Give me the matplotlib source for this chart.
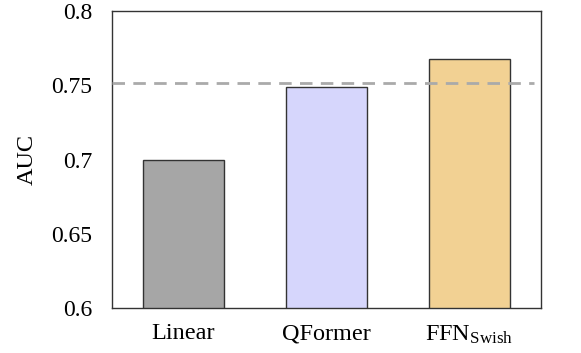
import matplotlib
matplotlib.use('Agg')
from matplotlib import pyplot as plt
from matplotlib.ticker import FuncFormatter

models = ['Linear', 'QFormer', r'FFN$_{\mathrm{Swish}}$']
auc = [0.700, 0.749, 0.768]
baseline = 0.7513
colors = ['#a6a6a6', '#d6d6fc', '#f2d193']

plt.rcParams['font.family'] = ['Liberation Serif', 'DejaVu Serif']
plt.rcParams['mathtext.fontset'] = 'custom'
plt.rcParams['mathtext.rm'] = 'Liberation Serif'
plt.rcParams['mathtext.it'] = 'Liberation Serif:italic'

fig = plt.figure(figsize=(5.81, 3.53), dpi=100)
ax = fig.add_axes([0.1928, 0.1275, 0.7382, 0.8413])

ax.bar(range(len(models)), auc, width=0.57, color=colors,
       edgecolor='#333333', linewidth=1.0, zorder=2)
ax.axhline(baseline, color='#aaaaaa', lw=2.0, linestyle=(0, (4.5, 3)),
           xmax=0.985, zorder=3)

ax.set_xlim(-0.5, 2.5)
ax.set_ylim(0.6, 0.8)
ax.set_yticks([0.6, 0.65, 0.7, 0.75, 0.8])
ax.yaxis.set_major_formatter(FuncFormatter(lambda v, p: '%g' % v))
ax.set_xticks(range(len(models)))
ax.set_xticklabels(models)
ax.tick_params(axis='x', length=0, labelsize=17.5, pad=11)
ax.tick_params(axis='y', length=0, labelsize=17, pad=14)
ax.set_ylabel('AUC', fontsize=17.5, labelpad=10)
for s in ax.spines.values():
    s.set_color('#333333')
    s.set_linewidth(1.0)

plt.savefig('out.png', dpi=100)
